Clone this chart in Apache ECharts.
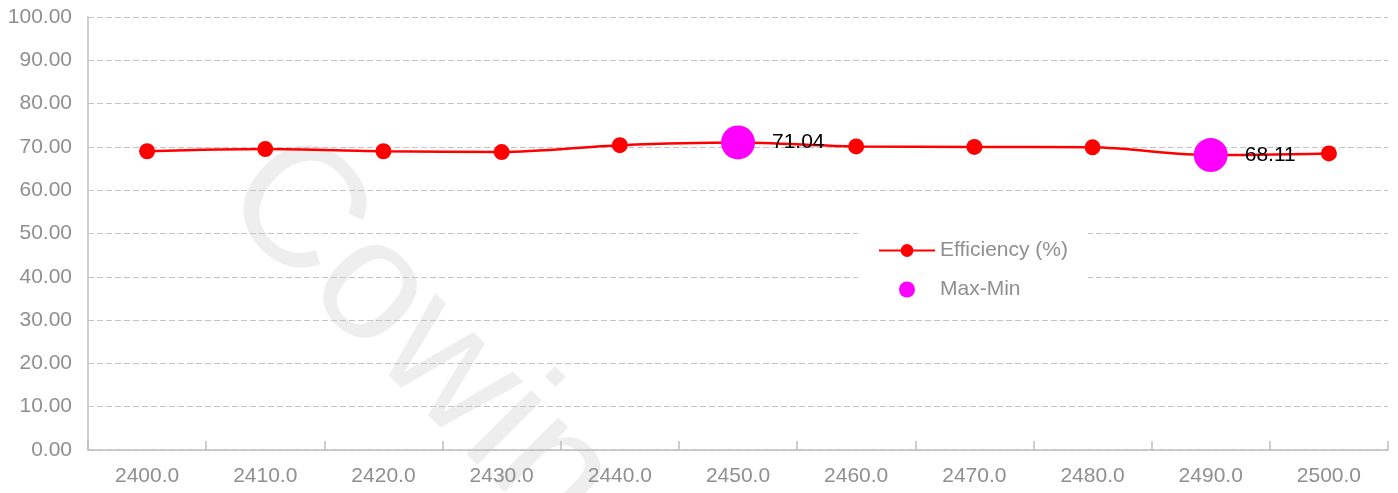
<!DOCTYPE html>
<html>
<head>
<meta charset="utf-8">
<script src="https://cdn.jsdelivr.net/npm/echarts@6/dist/echarts.min.js"></script>
<style>
  html, body { margin: 0; padding: 0; background: #fff; }
  #report { width: 1398px; height: 493px; }
</style>
</head>
<body>
<div id="report"></div>
<script>
// 数据
var categories = ['2400.0', '2410.0', '2420.0', '2430.0', '2440.0', '2450.0', '2460.0', '2470.0', '2480.0', '2490.0', '2500.0'];
var efficiency = [69.0, 69.5, 69.0, 68.8, 70.4, 71.04, 70.1, 70.0, 69.9, 68.11, 68.5];
var maxMinCats = ['2450.0', '2490.0'];
var maxMinVals = [71.04, 68.11];

var font = 'Arial, "Liberation Sans", sans-serif';
var gray = '#8f8f8f';

var myChart = echarts.init(document.getElementById('report'));

option = {
  animation: false,
  textStyle: { fontFamily: font },
  graphic: [{
    type: 'text',
    x: 250,
    y: 168,
    rotation: -0.79,
    z: -10,
    silent: true,
    style: {
      text: 'Cowin',
      font: 'normal 172px ' + font,
      fill: '#eeeeee',
      textAlign: 'left',
      textVerticalAlign: 'middle'
    }
  }],
  grid: { left: 88, right: 10, top: 17, bottom: 43 },
  legend: {
    orient: 'vertical',
    left: 858,
    top: 230,
    padding: [10, 20, 10, 20],
    backgroundColor: '#fff',
    itemWidth: 56,
    itemHeight: 16,
    itemGap: 18,
    textStyle: { color: gray, fontSize: 21, fontFamily: font },
    data: ['Efficiency (%)', 'Max-Min']
  },
  xAxis: {
    type: 'category',
    data: categories,
    boundaryGap: true,
    axisLine: { lineStyle: { color: '#bfbfbf', width: 1.5 } },
    axisTick: { show: true, inside: true, length: 9, lineStyle: { color: '#bfbfbf', width: 1.5 } },
    axisLabel: { color: gray, fontSize: 21, margin: 16 },
    splitLine: { show: false }
  },
  yAxis: {
    type: 'value',
    min: 0,
    max: 100,
    interval: 10,
    axisLine: { show: true, lineStyle: { color: '#bfbfbf', width: 1.5 } },
    axisTick: { show: false },
    axisLabel: {
      color: gray, fontSize: 21, margin: 16,
      formatter: function (v) { return v.toFixed(2); }
    },
    splitLine: { lineStyle: { color: '#c4c4c4', type: [6, 3], width: 1 } }
  },
  series: [
    {
      name: 'Efficiency (%)',
      type: 'line',
      data: efficiency,
      smooth: 0.3,
      symbol: 'circle',
      symbolSize: 16,
      itemStyle: { color: '#ff0000' },
      lineStyle: { color: '#ff0000', width: 2.5 },
      z: 2
    },
    {
      name: 'Max-Min',
      type: 'scatter',
      data: maxMinCats.map(function (c, i) { return [c, maxMinVals[i]]; }),
      symbol: 'circle',
      symbolSize: 34,
      itemStyle: { color: '#ff00ff', opacity: 1 },
      label: {
        show: true,
        position: 'right',
        distance: 17,
        color: '#000',
        fontSize: 21,
        formatter: function (p) { return p.value[1].toFixed(2); }
      },
      z: 3
    }
  ]
};

myChart.setOption(option);
</script>
</body>
</html>
